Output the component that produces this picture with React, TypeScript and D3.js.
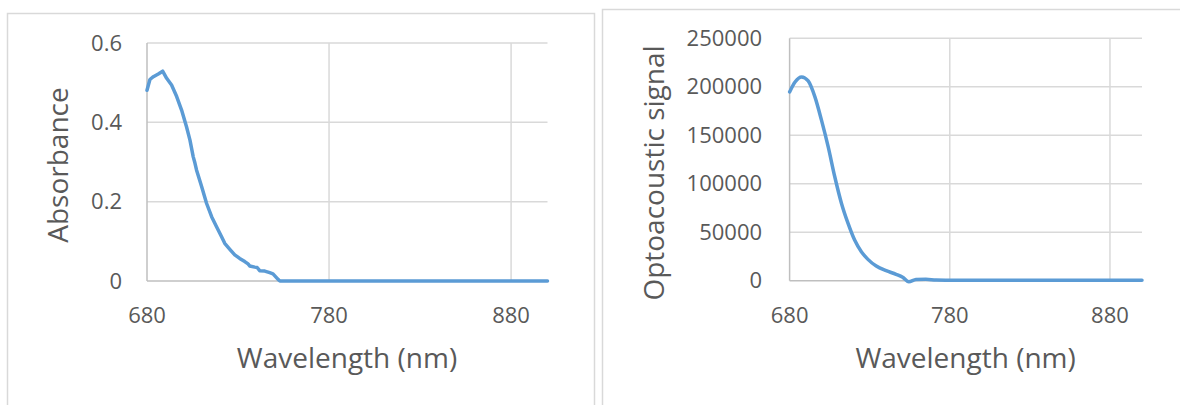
import React from "react";
import * as d3 from "d3";

// Absorbance spectrum (left panel)
const absWavelength = [680, 681.6, 683.5, 686.2, 688.6, 690.8, 693.5, 696.3, 699, 701.7, 703.6, 705.4, 706.3, 707.2, 710, 712.7, 715.5, 718.2, 720.9, 722.7, 725.5, 728.2, 730.9, 733.7, 735.5, 736.4, 739.2, 740.5, 741.9, 744.7, 747.4, 749.2, 752, 753, 760, 780, 800, 820, 840, 860, 880, 900];
const absValues = [0.481, 0.508, 0.515, 0.522, 0.529, 0.511, 0.494, 0.465, 0.431, 0.389, 0.355, 0.313, 0.298, 0.28, 0.238, 0.196, 0.162, 0.137, 0.112, 0.095, 0.08, 0.066, 0.057, 0.049, 0.043, 0.038, 0.035, 0.034, 0.026, 0.025, 0.021, 0.018, 0.004, 0, 0, 0, 0, 0, 0, 0, 0, 0];

// Optoacoustic spectrum (right panel)
const oaWavelength = [680, 683.4, 687.5, 691.6, 695.8, 699.9, 704.1, 708.2, 712.4, 716.5, 720.6, 724.8, 728.9, 734.1, 740.3, 746.5, 750.6, 754.4, 758.9, 765.1, 771.4, 780, 800, 820, 840, 860, 880, 900];
const oaValues = [194700, 205000, 210200, 206000, 189600, 165600, 138000, 107200, 79700, 59100, 41900, 29900, 22000, 15100, 10300, 6600, 3500, -1200, 1200, 1500, 700, 500, 400, 400, 400, 400, 400, 400];

const xTicks = [680, 780, 880];
const absTicks = [0, 0.2, 0.4, 0.6];
const oaTicks = [0, 50000, 100000, 150000, 200000, 250000];

const xTitle = "Wavelength (nm)";
const absTitle = "Absorbance";
const oaTitle = "Optoacoustic signal";

const FONT = "'Open Sans', sans-serif";
const TEXT = "#595959";
const GRID = "#d9d9d9";
const AXIS = "#bfbfbf";
const LINE = "#5b9bd5";

type PanelProps = {
  xs: number[];
  ys: number[];
  yTicks: number[];
  yDomain: [number, number];
  xRange: [number, number];
  yRange: [number, number];
  yTitle: string;
  yTitleX: number;
  yTitleY: number;
  yLabelGap: number;
  xTitleX: number;
  smooth: boolean;
  fmt: (v: number) => string;
};

function Panel(p: PanelProps) {
  const x = d3.scaleLinear().domain([680, 900]).range(p.xRange);
  const y = d3.scaleLinear().domain(p.yDomain).range(p.yRange);
  const pts = p.xs.map((w, i) => [w, p.ys[i]] as [number, number]);
  const line = d3
    .line<[number, number]>()
    .x((d) => x(d[0]))
    .y((d) => y(d[1]))
    .curve(p.smooth ? d3.curveMonotoneX : d3.curveLinear);
  const [x0, x1] = p.xRange;
  const [yb, yt] = p.yRange;
  return (
    <g>
      {p.yTicks.map((t) => (
        <line key={"h" + t} x1={x0} x2={x1} y1={y(t)} y2={y(t)} stroke={t === 0 ? AXIS : GRID} strokeWidth={1.5} />
      ))}
      {xTicks.slice(1).map((t) => (
        <line key={"v" + t} x1={x(t)} x2={x(t)} y1={yt} y2={yb} stroke={GRID} strokeWidth={1.5} />
      ))}
      <line x1={x0} x2={x0} y1={yt} y2={yb} stroke={AXIS} strokeWidth={1.5} />
      <path d={line(pts) || ""} fill="none" stroke={LINE} strokeWidth={3.5} strokeLinejoin="round" strokeLinecap="round" />
      {p.yTicks.map((t) => (
        <text key={"yl" + t} x={x0 - p.yLabelGap} y={y(t)} dy="0.35em" textAnchor="end" fontSize={22} fill={TEXT} fontFamily={FONT}>
          {p.fmt(t)}
        </text>
      ))}
      {xTicks.map((t) => (
        <text key={"xl" + t} x={x(t)} y={323} textAnchor="middle" fontSize={22} fill={TEXT} fontFamily={FONT}>
          {t}
        </text>
      ))}
      <text x={p.xTitleX} y={368} textAnchor="middle" fontSize={28} fill={TEXT} fontFamily={FONT}>
        {xTitle}
      </text>
      <text transform={`translate(${p.yTitleX},${p.yTitleY}) rotate(-90)`} textAnchor="middle" fontSize={28} fill={TEXT} fontFamily={FONT}>
        {p.yTitle}
      </text>
    </g>
  );
}

export default function App() {
  return (
    <svg width={1180} height={405} style={{ position: "absolute", left: 0, top: 0, background: "#fff" }}>
      <rect x={0} y={0} width={1180} height={405} fill="#fff" />
      <rect x={7.5} y={13.5} width={587} height={420} fill="none" stroke={GRID} strokeWidth={1.5} />
      <rect x={602.5} y={9.5} width={620} height={420} fill="none" stroke={GRID} strokeWidth={1.5} />
      <Panel
        xs={absWavelength}
        ys={absValues}
        yTicks={absTicks}
        yDomain={[0, 0.6]}
        xRange={[147, 547.5]}
        yRange={[281, 43]}
        yTitle={absTitle}
        yTitleX={68}
        yTitleY={165}
        yLabelGap={25}
        xTitleX={347}
        smooth={false}
        fmt={(v) => (v === 0 ? "0" : String(v))}
      />
      <Panel
        xs={oaWavelength}
        ys={oaValues}
        yTicks={oaTicks}
        yDomain={[0, 250000]}
        xRange={[789.6, 1142]}
        yRange={[280.7, 38.3]}
        yTitle={oaTitle}
        yTitleX={664}
        yTitleY={173}
        yLabelGap={27.5}
        xTitleX={965.6}
        smooth={true}
        fmt={(v) => String(v)}
      />
    </svg>
  );
}
